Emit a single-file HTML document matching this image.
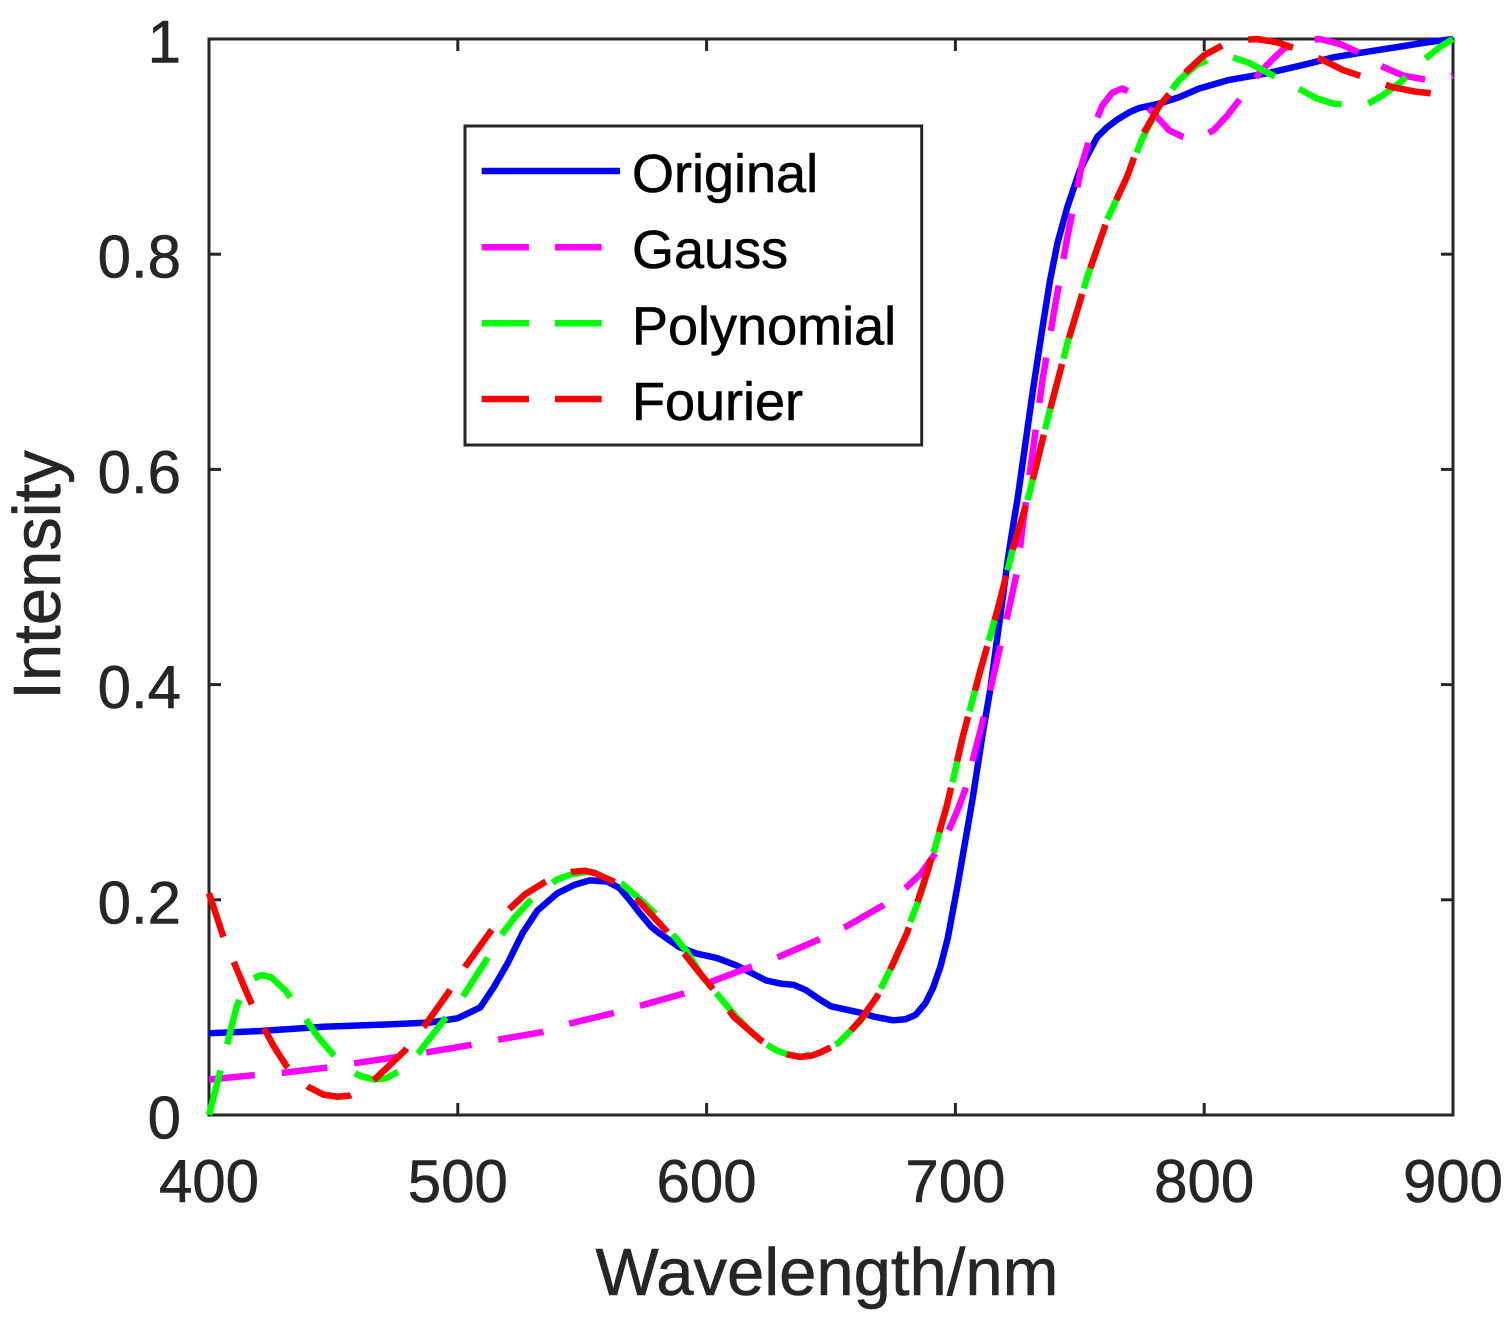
<!DOCTYPE html>
<html>
<head>
<meta charset="utf-8">
<style>
html,body{margin:0;padding:0;background:#fff;}
svg{display:block;}
text{font-family:"Liberation Sans",Arial,Helvetica,sans-serif;}
</style>
</head>
<body>
<svg width="1509" height="1320" viewBox="0 0 1509 1320" xmlns="http://www.w3.org/2000/svg">
<rect x="0" y="0" width="1509" height="1320" fill="#fff"/>
<!-- axes box -->
<rect x="209" y="39" width="1244" height="1076" fill="none" stroke="#262626" stroke-width="3"/>
<!-- ticks -->
<g stroke="#262626" stroke-width="3">
<line x1="209" y1="1115" x2="209" y2="1103"/><line x1="457.8" y1="1115" x2="457.8" y2="1103"/><line x1="706.6" y1="1115" x2="706.6" y2="1103"/><line x1="955.4" y1="1115" x2="955.4" y2="1103"/><line x1="1204.2" y1="1115" x2="1204.2" y2="1103"/><line x1="1453" y1="1115" x2="1453" y2="1103"/>
<line x1="209" y1="39" x2="209" y2="51"/><line x1="457.8" y1="39" x2="457.8" y2="51"/><line x1="706.6" y1="39" x2="706.6" y2="51"/><line x1="955.4" y1="39" x2="955.4" y2="51"/><line x1="1204.2" y1="39" x2="1204.2" y2="51"/><line x1="1453" y1="39" x2="1453" y2="51"/>
<line x1="209" y1="1115" x2="221" y2="1115"/><line x1="209" y1="899.8" x2="221" y2="899.8"/><line x1="209" y1="684.6" x2="221" y2="684.6"/><line x1="209" y1="469.4" x2="221" y2="469.4"/><line x1="209" y1="254.2" x2="221" y2="254.2"/><line x1="209" y1="39" x2="221" y2="39"/>
<line x1="1453" y1="1115" x2="1441" y2="1115"/><line x1="1453" y1="899.8" x2="1441" y2="899.8"/><line x1="1453" y1="684.6" x2="1441" y2="684.6"/><line x1="1453" y1="469.4" x2="1441" y2="469.4"/><line x1="1453" y1="254.2" x2="1441" y2="254.2"/><line x1="1453" y1="39" x2="1441" y2="39"/>
</g>
<!-- tick labels -->
<g fill="#262626" stroke="#262626" stroke-width="0.6" font-size="60" text-anchor="middle">
<text x="209" y="1202">400</text><text x="457.8" y="1202">500</text><text x="706.6" y="1202">600</text><text x="955.4" y="1202">700</text><text x="1204.2" y="1202">800</text><text x="1453" y="1202">900</text>
</g>
<g fill="#262626" stroke="#262626" stroke-width="0.6" font-size="60" text-anchor="end">
<text x="181" y="1138.5">0</text><text x="181" y="923.3">0.2</text><text x="181" y="708.1">0.4</text><text x="181" y="492.9">0.6</text><text x="181" y="277.7">0.8</text><text x="181" y="62.5">1</text>
</g>
<text x="827" y="1295" fill="#262626" stroke="#262626" stroke-width="0.6" font-size="67" text-anchor="middle">Wavelength/nm</text>
<text transform="translate(60,575) rotate(-90)" fill="#262626" stroke="#262626" stroke-width="0.6" font-size="67" text-anchor="middle">Intensity</text>

<g fill="none" stroke-width="6.5" stroke-linejoin="round">
<!-- Original -->
<polyline stroke="#0000ff" points="209,1033.2 258.8,1031.1 323.4,1026.8 383.2,1024.6 430.4,1022.5 457.8,1018.2 480.2,1007.4 493.9,987.0 507.6,963.3 522.5,933.2 537.4,910.6 557.3,893.3 574.7,884.7 589.7,880.4 607.1,881.5 619.5,888.0 629.5,899.8 639.4,912.7 651.1,926.7 659.3,933.2 679.2,947.1 696.6,953.6 716.6,957.9 736.5,965.4 751.4,973.0 766.3,980.5 781.2,983.7 793.7,984.8 806.1,990.2 818.6,998.8 831.0,1006.3 845.9,1009.6 860.9,1012.8 875.8,1017.1 893.2,1020.3 905.7,1019.2 915.6,1014.9 925.5,1003.1 933.0,988.0 940.5,966.5 947.9,937.5 952.9,910.6 957.9,883.7 962.9,854.6 967.8,826.6 972.8,797.6 977.8,765.3 982.8,733.0 990.2,690.0 996.7,641.6 1002.7,598.5 1007.6,560.9 1012.6,528.6 1017.6,498.5 1025.1,445.7 1032.5,393.0 1042.5,327.4 1049.9,281.1 1057.4,243.4 1067.4,206.9 1079.8,170.3 1089.8,150.9 1097.3,136.9 1107.2,127.2 1117.1,119.7 1129.6,112.2 1139.5,107.9 1159.4,103.6 1179.3,97.1 1199.2,88.5 1229.1,79.9 1266.5,73.4 1303.7,64.8 1333.6,57.3 1365.9,51.9 1400.8,46.5 1428.2,42.2 1453,39"/>
<!-- Gauss -->
<polyline stroke="#ff00ff" stroke-dasharray="46 27" points="209,1079.5 253.8,1075.2 281.2,1073.0 325.9,1067.7 353.3,1063.4 398.1,1056.9 425.5,1052.6 470.2,1045.1 497.6,1039.7 542.4,1032.1 569.8,1023.5 614.5,1012.8 641.9,1005.2 684.2,993.4 711.6,981.6 748.9,967.6 776.3,957.9 818.6,939.6 845.9,926.7 883.3,905.2 905.6,888.0 920.6,874.0 933.0,856.8 943.0,841.7 950.4,826.6 957.9,809.4 965.4,789.0 972.8,759.9 985.3,711.5 995.2,668.5 1005.2,625.4 1017.1,571.6 1023.8,517.8 1032.5,453.3 1042.5,380.1 1054.9,306.9 1067.4,237.0 1082.3,162.7 1092.2,130.5 1102.2,105.7 1112.1,92.8 1122.1,88.5 1132.0,92.8 1142.0,101.4 1154.4,114.3 1169.4,130.5 1183.3,136.9 1196.7,139.1 1213.2,130.5 1226.6,116.5 1239.0,100.3 1258.9,73.4 1271.4,60.5 1283.8,48.7 1301.2,41.2 1319.9,39.0 1341.1,44.4 1360.0,53.0 1383.3,67.0 1403.2,75.6 1426.8,79.9 1440.6,79.9 1453.0,75.6"/>
<!-- Polynomial -->
<polyline stroke="#00ff00" stroke-dasharray="46 27" points="209.0,1115.0 214.0,1095.6 219.0,1076.3 226.4,1047.2 236.4,1007.4 243.8,989.1 251.3,979.4 261.2,975.1 271.2,977.3 286.1,991.3 303.5,1016.0 318.5,1037.5 333.4,1054.7 345.8,1066.6 358.3,1075.2 373.2,1079.5 385.6,1078.4 398.1,1072.0 418.0,1053.7 442.9,1021.4 462.8,996.6 487.7,957.9 500.1,936.4 515.0,917.0 530.0,900.9 544.9,888.0 557.3,879.4 572.2,874.0 587.2,871.8 602.1,874.0 622.0,883.7 639.4,898.7 654.4,912.7 669.3,929.9 686.7,951.4 701.6,975.1 716.6,993.4 736.5,1017.1 758.9,1039.7 776.3,1050.4 788.7,1054.7 801.1,1056.9 818.6,1052.6 838.5,1042.9 860.9,1020.3 875.8,998.8 893.2,963.3 905.6,934.2 918.1,901.9 928.0,871.8 938.0,837.4 947.9,803.0 962.9,736.2 980.3,670.6 997.7,609.3 1012.6,550.1 1030.0,490.9 1049.9,410.2 1067.4,343.5 1087.3,276.8 1107.2,219.8 1127.1,176.7 1142.0,139.1 1159.4,105.7 1179.3,79.9 1196.7,64.8 1214.2,57.3 1229.1,56.2 1248.9,62.7 1268.9,73.4 1296.3,87.4 1316.2,98.2 1333.6,103.6 1353.5,105.7 1368.4,103.6 1383.3,94.9 1400.8,82.0 1423.1,60.5 1440.6,46.5 1453.0,39"/>
<!-- Fourier -->
<polyline stroke="#ff0000" stroke-dasharray="46 27" points="209.0,893.3 216.5,915.9 222.9,935.3 233.9,962.2 243.8,985.9 251.3,1003.1 263.7,1027.8 273.7,1046.1 286.1,1065.5 298.6,1078.4 308.5,1087.0 323.4,1094.6 337.1,1096.7 349.6,1095.6 360.8,1089.2 374.5,1079.5 388.1,1066.6 405.1,1050.4 425.5,1024.6 447.8,993.4 465.3,966.5 490.1,932.1 507.6,910.6 525.0,894.4 543.9,882.6 557.3,876.1 572.2,871.8 584.7,870.7 594.6,872.9 615.8,882.6 640.7,903.0 665.5,929.9 681.7,950.4 697.9,970.8 716.6,993.4 734.0,1017.1 760.1,1039.7 776.3,1050.4 788.7,1054.7 799.9,1056.9 811.1,1055.8 820.1,1052.6 840.0,1042.9 860.1,1020.3 877.0,996.6 893.2,963.3 906.9,933.2 917.1,903.0 927.1,872.9 937.0,839.5 947.0,805.1 962.9,736.2 980.3,670.6 997.7,609.3 1012.6,550.1 1030.0,490.9 1049.9,410.2 1067.4,343.5 1087.3,276.8 1107.2,219.8 1127.1,176.7 1142.0,135.8 1159.4,105.7 1173.1,89.6 1186.8,71.3 1204.2,55.1 1226.6,43.3 1241.5,40.1 1256.5,39 1276.4,42.2 1296.3,48.7 1323.6,60.5 1343.5,70.2 1365.9,77.7 1393.3,87.4 1415.7,91.7 1436.8,93.9 1453.0,94.9"/>
</g>

<!-- legend -->
<rect x="465" y="126" width="456.7" height="319" fill="#fff" stroke="#262626" stroke-width="3"/>
<g stroke-width="6.5">
<line x1="481.7" y1="171" x2="620" y2="171" stroke="#0000ff"/>
<line x1="481.7" y1="247.3" x2="529" y2="247.3" stroke="#ff00ff"/><line x1="555" y1="247.3" x2="601.7" y2="247.3" stroke="#ff00ff"/>
<line x1="481.7" y1="323.3" x2="529" y2="323.3" stroke="#00ff00"/><line x1="555" y1="323.3" x2="601.7" y2="323.3" stroke="#00ff00"/>
<line x1="481.7" y1="399" x2="529" y2="399" stroke="#ff0000"/><line x1="555" y1="399" x2="601.7" y2="399" stroke="#ff0000"/>
</g>
<g fill="#000" stroke="#000" stroke-width="0.6" font-size="54">
<text x="632" y="192">Original</text>
<text x="632" y="268">Gauss</text>
<text x="632" y="344.5">Polynomial</text>
<text x="632" y="420">Fourier</text>
</g>
</svg>
</body>
</html>
